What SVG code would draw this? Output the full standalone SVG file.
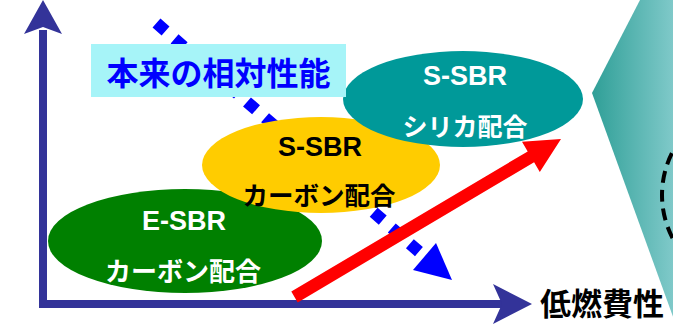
<svg xmlns="http://www.w3.org/2000/svg" width="673" height="325" viewBox="0 0 673 325">
<style>
.lat{font-family:"Liberation Sans",Arial,sans-serif;font-weight:bold;font-size:27px;text-anchor:middle}
.cjk{font-family:"Noto Sans CJK JP","Noto Sans",sans-serif;font-weight:bold;text-anchor:middle}
.axis{stroke:#333399;stroke-width:8;fill:none}
</style>
<defs>
<linearGradient id="tg" gradientUnits="userSpaceOnUse" x1="592" y1="0" x2="673" y2="0">
<stop offset="0" stop-color="#2F9F97"/>
<stop offset="1" stop-color="#7FC9C9"/>
</linearGradient>
</defs>
<rect width="673" height="325" fill="#fff"/>
<g id="side-panel">
<polygon points="640,0 690,0 690,325 676,325 592,93" fill="url(#tg)"/>
<circle cx="755" cy="195" r="93" fill="none" stroke="#000" stroke-width="4" stroke-dasharray="12 7"/>
</g>
<g id="connectors">
<line class="axis" x1="43" y1="308" x2="43" y2="30"/>
<polygon points="43,0 62,34 43,27 24,34" fill="#333399"/>
<line class="axis" x1="39" y1="304" x2="505" y2="304"/>
<polygon points="532,304 493,284 502,304 493,324" fill="#333399"/>
<path id="dotted" d="M156.5,23.1 L424.5,256.5" stroke="#0000FF" stroke-width="12" stroke-dasharray="12 12" fill="none"/>
<polygon points="452,280 413,270 436,243" fill="#0000FF"/>
</g>
<g id="e-sbr">
<ellipse cx="185" cy="241" rx="137" ry="52" fill="#008000"/>
<text class="lat" x="184" y="230" fill="#fff">E-SBR</text>
<text class="cjk" x="183" y="281" font-size="26" fill="#fff">カーボン配合</text>
</g>
<g id="s-sbr-carbon">
<ellipse cx="321" cy="165" rx="119" ry="48" fill="#FFCC00"/>
<text class="lat" x="320" y="156" fill="#000">S-SBR</text>
<text class="cjk" x="319" y="205" font-size="25.5" fill="#000">カーボン配合</text>
</g>
<g id="s-sbr-silica">
<ellipse cx="463" cy="99" rx="120" ry="48" fill="#009999"/>
<text class="lat" x="465" y="85" fill="#fff">S-SBR</text>
<text class="cjk" x="465" y="136" font-size="25" fill="#fff">シリカ配合</text>
</g>
<g id="label">
<rect x="91" y="44" width="255" height="53" fill="#A6F4F8"/>
<text class="cjk" x="218.5" y="85" font-size="32" fill="#0000FF">本来の相対性能</text>
</g>
<g id="red-arrow">
<polygon points="291.3,291.6 527.7,151.4 522,141.8 561,139 539.8,171.9 534.1,162.3 297.7,302.4" fill="#FF0000"/>
</g>
<g id="x-label">
<text class="cjk" x="602" y="315" font-size="31" fill="#000">低燃費性</text>
</g>
</svg>
